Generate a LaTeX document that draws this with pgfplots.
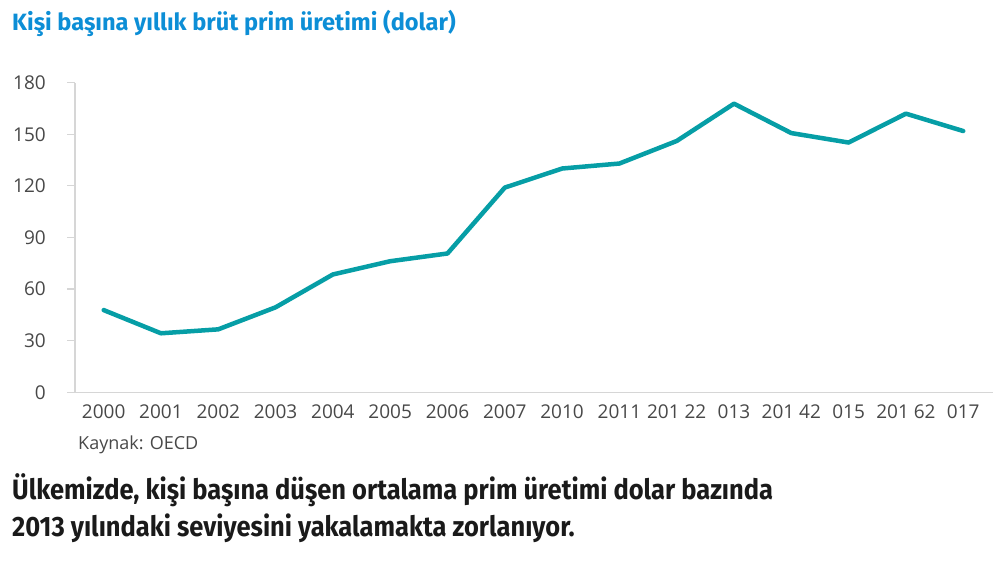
\documentclass[border=0pt]{standalone}
\usepackage{fontspec}
\setmainfont{Open Sans}
\newfontfamily\titlefont{Fira Sans}
\newfontfamily\capfont[FakeStretch=0.91]{Fira Sans}
\usepackage{pgfplots}
\pgfplotsset{compat=1.18}
\definecolor{lineteal}{RGB}{6,158,166}
\definecolor{titleblue}{RGB}{12,142,214}
\definecolor{ticktext}{RGB}{72,72,72}
\definecolor{axgray}{RGB}{214,214,214}
\definecolor{captext}{RGB}{26,26,26}
\begin{document}
\begin{tikzpicture}[x=1bp,y=1bp]
\useasboundingbox (0,0) rectangle (1000,565);
\begin{axis}[
  at={(75bp,172.7bp)}, anchor=south west,
  scale only axis, width=918bp, height=309.6bp,
  xmin=-0.5, xmax=15.52, ymin=0, ymax=180,
  axis lines=left,
  axis line style={-, draw=axgray, line width=1.2bp},
  xtick={0,...,15},
  xticklabels={2000,2001,2002,2003,2004,2005,2006,2007,2010,2011,201 22,013,201 42,015,201 62,017},
  ytick={0,30,60,90,120,150,180},
  /pgf/number format/assume math mode=true,
  x tick style={draw=none},
  y tick style={draw=axgray, line width=1.2bp},
  ytick align=outside, xtick align=inside,
  major tick length=8bp,
  ticklabel style={text=ticktext, font=\fontsize{19bp}{23bp}\selectfont},
  yticklabel style={anchor=east, inner sep=0pt, xshift=-21bp},
  xticklabel style={anchor=north, inner sep=0pt, yshift=-12.7bp},
  clip=false,
]
\addplot[lineteal, line width=4.5bp, line join=round, line cap=round] coordinates {
(0,47.8) (1,34.3) (2,36.6) (3,49.4) (4,68.5) (5,76.2) (6,80.7) (7,119.0)
(8,130.1) (9,133.0) (10,146.1) (11,167.8) (12,150.7) (13,145.2) (14,162.0) (15,151.9)
};
\end{axis}
\node[anchor=base west, inner sep=0, text=titleblue, font=\titlefont\bfseries\fontsize{23.6bp}{27bp}\selectfont] at (12,534) {Kişi başına yıllık brüt prim üretimi (dolar)};
\node[anchor=base west, inner sep=0, text=ticktext, font=\fontsize{18bp}{22bp}\selectfont] at (78,115) {Kaynak: OECD};
\node[anchor=base west, inner sep=0, text=captext, font=\capfont\bfseries\fontsize{28bp}{37bp}\selectfont] at (12,65) {Ülkemizde, kişi başına düşen ortalama prim üretimi dolar bazında};
\node[anchor=base west, inner sep=0, text=captext, font=\capfont\bfseries\fontsize{28bp}{37bp}\selectfont] at (12,28.3) {2013 yılındaki seviyesini yakalamakta zorlanıyor.};
\end{tikzpicture}
\end{document}
